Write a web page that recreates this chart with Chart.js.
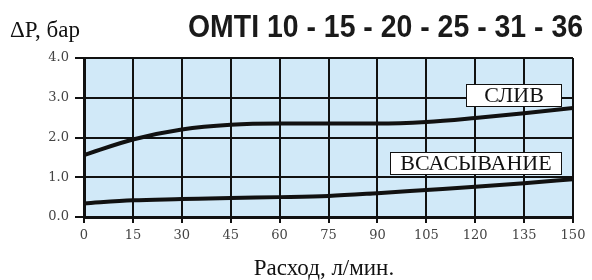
<!DOCTYPE html>
<html>
<head>
<meta charset="utf-8">
<script src="https://cdn.jsdelivr.net/npm/chart.js@4"></script>
<style>
  html, body { margin: 0; padding: 0; background: #fff; }
  #wrap { width: 592px; height: 280px; }
</style>
</head>
<body>
<div id="wrap"><canvas id="chart" width="592" height="280"></canvas></div>
<script>
// Flow rate, l/min
const flow = [0, 15, 30, 45, 60, 75, 90, 105, 120, 135, 150];
// Pressure drop, bar
const drainValues = [1.56, 1.95, 2.2, 2.32, 2.35, 2.35, 2.35, 2.39, 2.49, 2.61, 2.74];
const suctionValues = [0.34, 0.42, 0.45, 0.48, 0.50, 0.53, 0.60, 0.68, 0.76, 0.85, 0.95];
const seriesNames = ["СЛИВ", "ВСАСЫВАНИЕ"];
const yTicks = [0, 1, 2, 3, 4];

const chartTitle = "OMTI 10 - 15 - 20 - 25 - 31 - 36";
const yTitle = "ΔP, бар";
const xTitle = "Расход, л/мин.";

const serif = "'Liberation Serif', 'DejaVu Serif', serif";
const tickFont = "'DejaVu Serif', serif";

// plot background + texts
const decor = {
  id: "decor",
  beforeDraw(c) {
    const { ctx, chartArea: a } = c;
    ctx.save();
    ctx.fillStyle = "#d1e9f8";
    ctx.fillRect(a.left, a.top, a.right - a.left, a.bottom - a.top);
    ctx.restore();
  },
  afterDraw(c) {
    const { ctx } = c;
    ctx.save();
    // title, squeezed to look condensed
    ctx.fillStyle = "#1a1a1a";
    ctx.font = "bold 31px 'Liberation Sans Narrow', 'Liberation Sans', Arial, sans-serif";
    ctx.textBaseline = "alphabetic";
    const w = ctx.measureText(chartTitle).width;
    ctx.translate(188, 37);
    ctx.scale(395 / w, 1);
    ctx.fillText(chartTitle, 0, 0);
    ctx.restore();

    ctx.save();
    ctx.fillStyle = "#111";
    ctx.font = "23px " + serif;
    ctx.textBaseline = "alphabetic";
    ctx.fillText(yTitle, 10, 37);
    ctx.textAlign = "center";
    ctx.fillText(xTitle, 324, 275);

    // series label boxes
    const boxes = [
      { x0: 466, x1: 562, y: 95.5 },
      { x0: 390, x1: 562, y: 163.5 }
    ];
    ctx.font = "22px " + serif;
    ctx.textBaseline = "middle";
    boxes.forEach((b, i) => {
      ctx.fillStyle = "#fff";
      ctx.fillRect(b.x0, b.y - 11.5, b.x1 - b.x0, 23);
      ctx.strokeStyle = "#111";
      ctx.lineWidth = 1;
      ctx.strokeRect(b.x0 + 0.5, b.y - 11, b.x1 - b.x0 - 1, 22);
      ctx.fillStyle = "#111";
      ctx.fillText(seriesNames[i], (b.x0 + b.x1) / 2, b.y + 1);
    });
    ctx.restore();
  }
};

const mkData = vals => flow.map((f, i) => ({ x: f, y: vals[i] }));

chart = new Chart(document.getElementById("chart"), {
  type: "line",
  data: {
    datasets: [
      { label: seriesNames[0], data: mkData(drainValues) },
      { label: seriesNames[1], data: mkData(suctionValues) }
    ]
  },
  options: {
    responsive: false,
    animation: false,
    layout: { padding: { left: 0, right: 19, top: 58, bottom: 0 } },
    elements: {
      point: { radius: 0 },
      line: { borderColor: "#111", borderWidth: 4, cubicInterpolationMode: "monotone", fill: false }
    },
    plugins: { legend: { display: false }, tooltip: { enabled: false } },
    scales: {
      x: {
        type: "linear",
        min: 0, max: 150,
        afterBuildTicks: s => { s.ticks = flow.map(v => ({ value: v })); },
        afterFit: s => { s.height = 63; },
        grid: { color: "#111", lineWidth: 2, tickLength: 6 },
        border: { color: "#111", width: 3 },
        ticks: { color: "#444", font: { family: tickFont, size: 13 }, padding: 5, maxRotation: 0 }
      },
      y: {
        min: 0, max: 4,
        afterBuildTicks: s => { s.ticks = yTicks.map(v => ({ value: v })); },
        afterFit: s => { s.width = 84; },
        grid: { color: "#111", lineWidth: 2, tickLength: 9 },
        border: { color: "#111", width: 3 },
        ticks: { color: "#444", font: { family: tickFont, size: 13 }, padding: 6, callback: v => v.toFixed(1) }
      }
    }
  },
  plugins: [decor]
});
</script>
</body>
</html>
